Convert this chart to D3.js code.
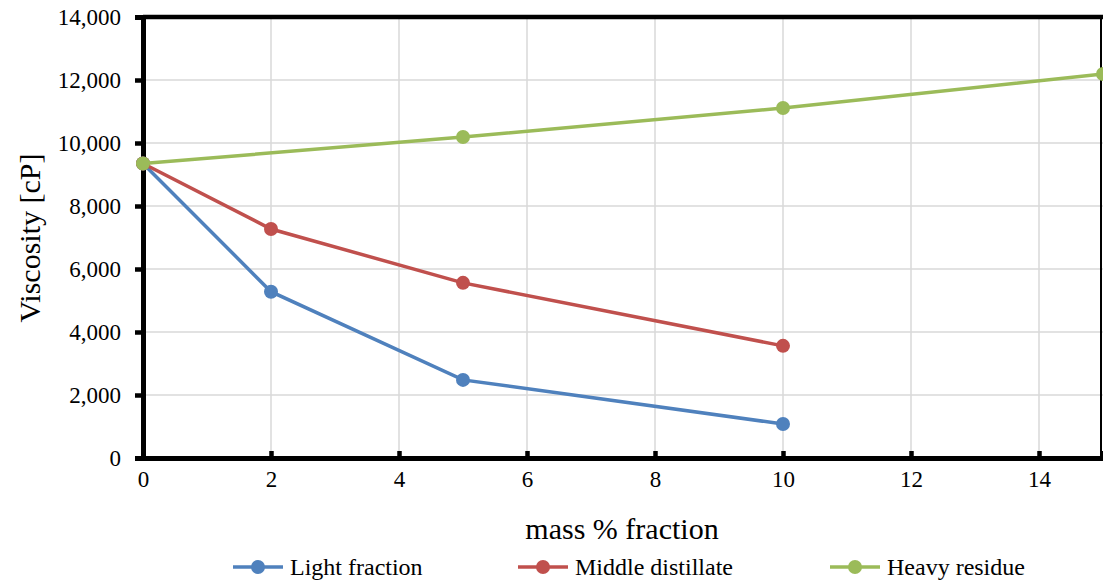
<!DOCTYPE html>
<html><head><meta charset="utf-8">
<script src="https://cdn.jsdelivr.net/npm/d3@7"></script>
<style>body{margin:0;background:#fff}svg{display:block}svg text{font-family:"Liberation Serif","Times New Roman",Times,"DejaVu Serif",serif !important;fill:#000}</style>
</head><body><svg id="c" width="1103" height="585"></svg>
<script>
const xTicks = [0,2,4,6,8,10,12,14];
const yTicks = [0,2000,4000,6000,8000,10000,12000,14000];
const lightX = [0,2,5,10];
const lightY = [9350,5280,2480,1080];
const middleX = [0,2,5,10];
const middleY = [9350,7270,5560,3560];
const heavyX = [0,5,10,15];
const heavyY = [9350,10190,11110,12190];
const seriesNames = ["Light fraction","Middle distillate","Heavy residue"];
const colors = ["#4f81bd","#c0504d","#9bbb59"];

const svg = d3.select("#c");
const L=143,R=1103,T=17,B=458;
const x = d3.scaleLinear().domain([0,15]).range([L,R]);
const y = d3.scaleLinear().domain([0,14000]).range([B,T]);

// grid
svg.append("g").selectAll("line").data(xTicks.filter(d=>d>0)).join("line")
 .attr("x1",d=>x(d)).attr("x2",d=>x(d)).attr("y1",T).attr("y2",B)
 .attr("stroke","#d9d9d9").attr("stroke-width",1.5);
svg.append("g").selectAll("line").data(yTicks.filter(d=>d>0&&d<14000)).join("line")
 .attr("x1",L).attr("x2",R).attr("y1",d=>y(d)).attr("y2",d=>y(d))
 .attr("stroke","#d9d9d9").attr("stroke-width",1.5);

// border top/right
svg.append("line").attr("x1",L).attr("x2",R).attr("y1",T).attr("y2",T).attr("stroke","#000").attr("stroke-width",4.5);
svg.append("line").attr("x1",1101).attr("x2",1101).attr("y1",T).attr("y2",B).attr("stroke","#000").attr("stroke-width",2);

// axes
const yAxis = d3.axisLeft(y).tickValues(yTicks).tickSize(8).tickPadding(14).tickFormat(d3.format(","));
const gy = svg.append("g").attr("transform",`translate(${L},0)`).call(yAxis).attr("font-family",null);
gy.select(".domain").attr("stroke","#000").attr("stroke-width",5);
gy.selectAll(".tick line").attr("stroke","#000").attr("stroke-width",4.5);
gy.selectAll("text").attr("font-size",23);

const xAxis = d3.axisBottom(x).tickValues(xTicks).tickSize(-7).tickPadding(13);
const gx = svg.append("g").attr("transform",`translate(0,${B})`).call(xAxis).attr("font-family",null);
gx.select(".domain").attr("stroke","#000").attr("stroke-width",5);
gx.selectAll(".tick line").attr("stroke","#000").attr("stroke-width",4.5);
gx.selectAll("text").attr("font-size",23);

// series
const series = [
 {name:seriesNames[0],xs:lightX,ys:lightY,c:colors[0]},
 {name:seriesNames[1],xs:middleX,ys:middleY,c:colors[1]},
 {name:seriesNames[2],xs:heavyX,ys:heavyY,c:colors[2]}
];
const line = d3.line().x(d=>x(d[0])).y(d=>y(d[1]));
series.forEach(s=>{
 const pts = s.xs.map((v,i)=>[v,s.ys[i]]);
 svg.append("path").attr("d",line(pts)).attr("fill","none").attr("stroke",s.c).attr("stroke-width",3.5);
 svg.append("g").selectAll("circle").data(pts).join("circle")
  .attr("cx",d=>x(d[0])).attr("cy",d=>y(d[1])).attr("r",7).attr("fill",s.c);
});

// titles
svg.append("text").attr("x",622).attr("y",539).attr("text-anchor","middle").attr("font-size",30).text("mass % fraction");
svg.append("text").attr("transform","translate(40,238) rotate(-90)").attr("text-anchor","middle").attr("font-size",30).text("Viscosity [cP]");

// legend
const legX = [233,518,830];
const lg = svg.append("g").selectAll("g").data(series).join("g").attr("transform",(d,i)=>`translate(${legX[i]},567)`);
lg.append("line").attr("x1",0).attr("x2",50).attr("y1",0).attr("y2",0).attr("stroke",d=>d.c).attr("stroke-width",3.5);
lg.append("circle").attr("cx",25).attr("cy",0).attr("r",7).attr("fill",d=>d.c);
lg.append("text").attr("x",57).attr("y",8).attr("font-size",24).text(d=>d.name);
</script></body></html>
